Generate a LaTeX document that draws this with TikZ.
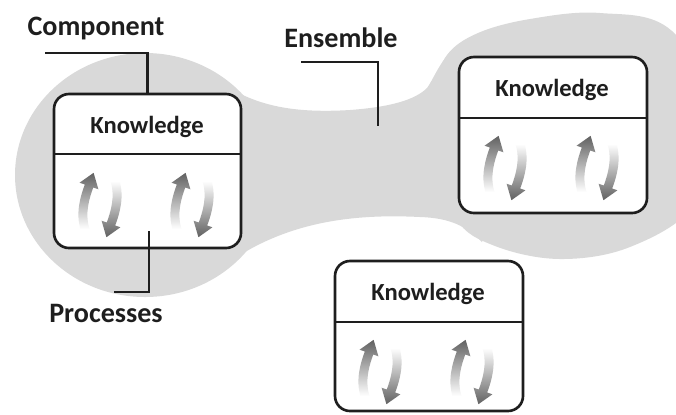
\documentclass[tikz,border=0pt]{standalone}
\usepackage{fontspec}
\setmainfont{Carlito}
\usetikzlibrary{fit}
\definecolor{blob}{RGB}{217,217,217}
\definecolor{ink}{RGB}{30,30,30}
\tikzset{
  kbox/.style={draw=ink, line width=1.5pt, rounded corners=0.3cm, fill=white, inner sep=0pt},
  divider/.style={draw=ink, line width=1.3pt},
  leader/.style={draw=ink, line width=1.2pt},
  ktext/.style={font=\bfseries\fontsize{14}{16}\selectfont, text=ink, anchor=base, inner sep=0pt},
  label/.style={font=\bfseries\fontsize{16}{18}\selectfont, text=ink, anchor=base, inner sep=0pt},
  upshade/.style={top color=black!62, middle color=black!38, bottom color=white},
  downshade/.style={top color=white, middle color=black!38, bottom color=black!62}
}
\newcommand\rotpair[2]{%
  \begin{scope}[shift={(#1,#2)}]
    \shade[upshade] (-19.5,24) .. controls (-24.5,8) and (-19.5,-9) .. (-15.2,-20.5)
      -- (-20.4,-22.3) -- (-6.4,-32.2) -- (-1.6,-15.7) -- (-6.8,-17.5)
      .. controls (-10.5,-7) and (-15.5,8) .. (-10.5,24) -- cycle;
    \shade[downshade] (19.5,-24) .. controls (24.5,-8) and (19.5,9) .. (15.2,20.5)
      -- (20.4,22.3) -- (6.4,32.2) -- (1.6,15.7) -- (6.8,17.5)
      .. controls (10.5,7) and (15.5,-8) .. (10.5,-24) -- cycle;
  \end{scope}}
\begin{document}
\begin{tikzpicture}[x=0.02cm, y=-0.02cm]
\useasboundingbox (0,0) rectangle (676,414);
\clip (0,0) rectangle (676,414);
% ensemble blob
\fill[blob] (145,175) ellipse [x radius=130, y radius=122];
\fill[blob] plot[smooth cycle, tension=0.6] coordinates {(725,125) (672,31) (600,13) (530,19) (478,33) (447,55) (436,90) (442,150) (456,218) (495,246) (560,259) (630,247) (695,205)};
\fill[blob] (225,85) .. controls (260,108) and (300,113) .. (350,110)
  .. controls (390,107) and (415,100) .. (427,88)
  .. controls (433,80) and (438,65) .. (452,50) -- (520,140) -- (482,242)
  .. controls (466,226) and (450,218) .. (420,217)
  .. controls (360,214) and (300,220) .. (245,252) -- (150,175) -- cycle;
% left component
\coordinate (c1tl) at (54,94); \coordinate (c1br) at (241,248);
\node[kbox, fit=(c1tl)(c1br)] (c1) {};
\coordinate (c1dw) at (54,154); \coordinate (c1de) at (241,154);
\draw[divider] (c1dw) -- (c1de);
\node[ktext] (c1k) at (147,133) {Knowledge};
\rotpair{100}{205}\rotpair{192}{205}
% right component
\coordinate (c2tl) at (459,57); \coordinate (c2br) at (647,213);
\node[kbox, fit=(c2tl)(c2br)] (c2) {};
\coordinate (c2dw) at (459,118); \coordinate (c2de) at (647,118);
\draw[divider] (c2dw) -- (c2de);
\node[ktext] (c2k) at (552,96) {Knowledge};
\rotpair{505}{168}\rotpair{597}{168}
% bottom component
\coordinate (c3tl) at (335,261); \coordinate (c3br) at (523,411);
\node[kbox, fit=(c3tl)(c3br)] (c3) {};
\coordinate (c3dw) at (335,322); \coordinate (c3de) at (523,322);
\draw[divider] (c3dw) -- (c3de);
\node[ktext] (c3k) at (428,300) {Knowledge};
\rotpair{380}{372}\rotpair{472}{372}
% labels
\node[label] (comp) at (96,35) {Component};
\node[label] (ens) at (341,47) {Ensemble};
\node[label] (proc) at (106,322) {Processes};
% leader lines
\coordinate (cfree) at (45,53);
\draw[leader] (cfree) -| (c1.north);
\coordinate (efree) at (301,62); \coordinate (ein) at (378,126);
\draw[leader] (efree) -| (ein);
\coordinate (pin) at (149,231); \coordinate (pfree) at (114,292);
\draw[leader] (pin) |- (pfree);
\end{tikzpicture}
\end{document}
